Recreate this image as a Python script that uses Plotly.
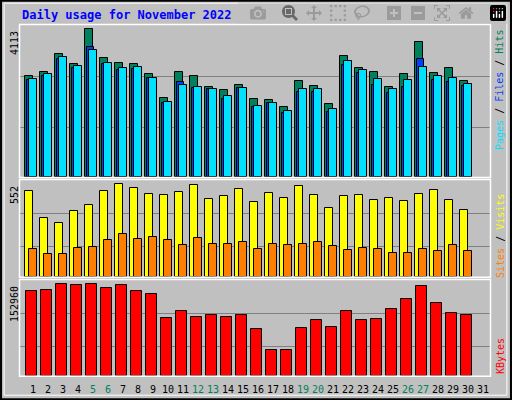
import plotly.graph_objects as go

days = list(range(1, 32))
hits = [2801,2922,3424,3136,4113,3303,3164,3136,2857,2187,2922,2801,2494,2410,2550,2159,2131,1935,2661,2522,2019,3359,3024,2922,2494,2857,3750,2885,3024,2661]
files = [2689,2801,3275,3024,3610,3136,2968,2996,2745,2047,2633,2466,2438,2159,2466,1935,2047,1768,2354,2354,1796,3108,2885,2550,2326,2494,3275,2689,2633,2522]
pages = [2717,2857,3331,3080,3527,3164,3024,3052,2745,2075,2550,2494,2438,2243,2466,1963,2047,1824,2438,2438,1880,3220,2968,2717,2438,2689,3052,2801,2745,2577]
visits = [512,349,319,391,426,512,552,528,492,486,504,546,462,480,522,444,498,468,540,486,409,480,486,456,468,450,492,516,456,397]
sites = [163,134,134,169,175,217,253,223,235,217,187,229,193,193,205,163,193,187,193,205,181,157,169,163,140,140,163,151,187,151]
kbytes = [141225,142899,152960,151272,152960,146248,151272,141225,136201,96010,107733,97685,101034,97685,101034,77590,42423,42423,79264,92661,80939,107733,92661,94336,111082,127828,149598,121129,104383,101034]
weekend = {5,6,12,13,19,20,26,27}
max_labels = ["4113", "552", "152960"]

d30 = days[:30]
fig = go.Figure()
line = dict(color="black", width=1)
def bar(y, color, off, w, ax):
    fig.add_trace(go.Bar(x=d30, y=y, offset=off, width=w, marker=dict(color=color, line=line),
                         xaxis="x" + ax, yaxis="y" + ax, showlegend=False, hoverinfo="y"))
bar(hits, "#00805C", 0.0, 0.5, "")
bar(files, "#0040FF", 0.11, 0.5, "")
bar(pages, "#00E0FF", 0.27, 0.51, "")
bar(visits, "#FFFF00", 0.0, 0.53, "2")
bar(sites, "#FF8000", 0.25, 0.51, "2")
bar(kbytes, "#FF0000", 0.07, 0.69, "3")

xr = [0.647, 31.98]
xd = [20/512, 490/512]
common_x = dict(range=xr, domain=xd, showticklabels=False, showgrid=False, zeroline=False, fixedrange=True)
lay = dict(
    width=512, height=400, margin=dict(l=0, r=0, t=0, b=0),
    paper_bgcolor="#C0C0C0", plot_bgcolor="#C0C0C0", bargap=0,
    xaxis=dict(**common_x, anchor="y"),
    xaxis2=dict(**common_x, anchor="y2"),
    xaxis3=dict(**common_x, anchor="y3"),
    yaxis=dict(domain=[1-177/400, 1-25/400], range=[0, 4230], tickvals=[1377, 2801], showticklabels=False,
               gridcolor="#808080", zeroline=False),
    yaxis2=dict(domain=[1-276.7/400, 1-180/400], range=[0, 577], tickvals=[181, 379], showticklabels=False,
                gridcolor="#808080", zeroline=False),
    yaxis3=dict(domain=[1-375.7/400, 1-280/400], range=[0, 160100], tickvals=[49122, 104383], showticklabels=False,
                gridcolor="#808080", zeroline=False),
)
fig.update_layout(**lay)

shapes = [
    dict(type="rect", xref="paper", yref="paper", x0=0.002, x1=0.998, y0=0.002, y1=0.998, line=dict(color="black", width=2)),
    dict(type="rect", xref="paper", yref="paper", x0=0.008, x1=0.99, y0=0.012, y1=0.992, line=dict(color="white", width=1)),
]
for y0, y1 in [(25, 177), (180, 276.7), (280, 375.7)]:
    shapes.append(dict(type="rect", xref="paper", yref="paper", x0=19.5/512, x1=490.5/512,
                       y0=1-(y1+0.5)/400, y1=1-(y0-0.5)/400, line=dict(color="white", width=1.5)))
fig.update_layout(shapes=shapes)

font = "DejaVu Sans Mono"
ann = [dict(text="<b>Daily usage for November 2022</b>", x=20/512, y=1-15/400, xref="paper", yref="paper",
            xanchor="left", yanchor="middle", showarrow=False, font=dict(family=font, size=12, color="#0000FF"))]
for lab, ytop in zip(max_labels, [29, 184, 284]):
    ann.append(dict(text=lab, x=14/512, y=1-ytop/400, xref="paper", yref="paper", textangle=-90,
                    xanchor="center", yanchor="top", showarrow=False, font=dict(family=font, size=10, color="black")))
right = [
    ('<span style="color:#00E0FF">Pages</span> / <span style="color:#0040FF">Files</span> / <span style="color:#00805C">Hits</span>', 90),
    ('<span style="color:#FF8000">Sites</span> / <span style="color:#FFFF00">Visits</span>', 236),
    ('<span style="color:#FF0000">KBytes</span>', 356),
]
for t, yc in right:
    ann.append(dict(text=t, x=500/512, y=1-yc/400, xref="paper", yref="paper", textangle=-90,
                    xanchor="center", yanchor="middle", showarrow=False, font=dict(family=font, size=10, color="black")))
for d in days:
    ann.append(dict(text=str(d), x=d + 0.53, y=1-389/400, xref="x3", yref="paper", showarrow=False,
                    xanchor="center", yanchor="middle",
                    font=dict(family=font, size=10, color="#00805C" if d in weekend else "black")))
fig.update_layout(annotations=ann)
fig.write_html("out.html")
with open("out.html") as f:
    html = f.read()
html = html.replace("<body>", '<body style="margin:0;overflow:hidden">', 1)
with open("out.html", "w") as f:
    f.write(html)
